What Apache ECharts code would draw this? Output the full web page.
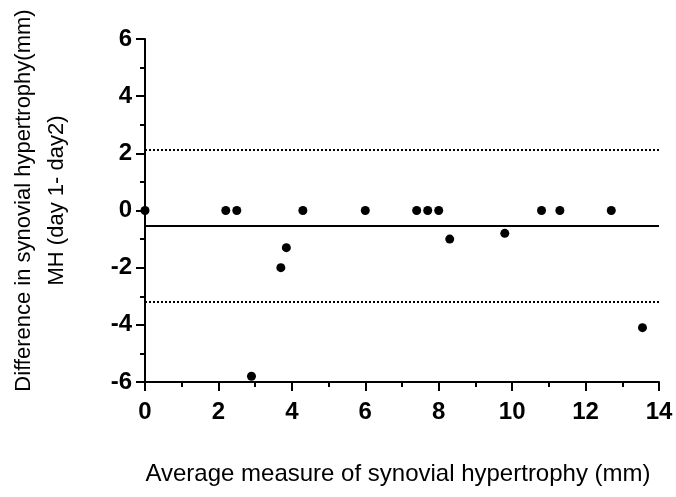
<!DOCTYPE html>
<html>
<head>
<meta charset="utf-8">
<script src="https://cdn.jsdelivr.net/npm/echarts@6/dist/echarts.min.js"></script>
<style>
  html, body { margin: 0; padding: 0; background: #fff; }
  #chart { width: 676px; height: 497px; }
</style>
</head>
<body>
<div id="chart"></div>
<script>
// average of the two measures (x) and the difference day1 - day2 (y)
const avgMeasure = [0, 2.2, 2.5, 2.9, 3.7, 3.85, 4.3, 6.0, 7.4, 7.7, 8.0, 8.3, 9.8, 10.8, 11.3, 12.7, 13.55]
const difference = [0, 0, 0, -5.8, -2.0, -1.3, 0, 0, 0, 0, 0, -1.0, -0.8, 0, 0, 0, -4.1]

// bias and limits of agreement
const bias = -0.54
const upperLimit = 2.12
const lowerLimit = -3.19

const xTicks = { min: 0, max: 14, interval: 2 }
const yTicks = { min: -6, max: 6, interval: 2 }

const points = avgMeasure.map((x, i) => [x, difference[i]])

const font = 'Arial, "Liberation Sans", Helvetica, sans-serif'

const axisCommon = {
  axisLine: { show: true, onZero: false, lineStyle: { color: '#000', width: 2 } },
  axisTick: { show: true, length: 9, lineStyle: { color: '#000', width: 2 } },
  minorTick: { show: true, splitNumber: 2, length: 5, lineStyle: { color: '#000', width: 2 } },
  splitLine: { show: false },
  axisLabel: { color: '#000', fontSize: 24, fontWeight: 'bold', fontFamily: font },
  nameTextStyle: { color: '#000', fontSize: 22, fontFamily: font }
}

const option = {
  animation: false,
  grid: { left: 145, right: 17, top: 39, bottom: 115, outerBoundsMode: 'none' },
  xAxis: Object.assign({}, axisCommon, {
    type: 'value',
    min: xTicks.min,
    max: xTicks.max,
    interval: xTicks.interval,
    name: 'Average measure of synovial hypertrophy (mm)',
    nameLocation: 'middle',
    nameGap: 80,
    nameTextStyle: Object.assign({}, axisCommon.nameTextStyle, { fontSize: 24, padding: [0, 8, 0, 0] }),
    axisLabel: Object.assign({}, axisCommon.axisLabel, { margin: 18 })
  }),
  yAxis: Object.assign({}, axisCommon, {
    type: 'value',
    min: yTicks.min,
    max: yTicks.max,
    interval: yTicks.interval,
    name: 'Difference in synovial hypertrophy(mm)\nMH (day 1- day2)',
    nameLocation: 'middle',
    nameGap: 72,
    nameTextStyle: Object.assign({}, axisCommon.nameTextStyle, { lineHeight: 33, padding: [0, 0, 0, 20] }),
    axisLabel: Object.assign({}, axisCommon.axisLabel, { margin: 13 })
  }),
  series: [
    {
      type: 'scatter',
      data: points,
      symbol: 'circle',
      symbolSize: 9,
      clip: false,
      itemStyle: { color: '#000', opacity: 1 },
      markLine: {
        silent: true,
        symbol: 'none',
        label: { show: false },
        data: [
          [{ coord: [xTicks.min, bias], lineStyle: { type: 'solid', width: 2, color: '#000' } }, { coord: [xTicks.max, bias] }],
          [{ coord: [xTicks.min, upperLimit], lineStyle: { type: [2, 2], width: 2, color: '#000' } }, { coord: [xTicks.max, upperLimit] }],
          [{ coord: [xTicks.min, lowerLimit], lineStyle: { type: [2, 2], width: 2, color: '#000' } }, { coord: [xTicks.max, lowerLimit] }]
        ]
      }
    }
  ]
}

const chart = echarts.init(document.getElementById('chart'))
chart.setOption(option)
</script>
</body>
</html>
